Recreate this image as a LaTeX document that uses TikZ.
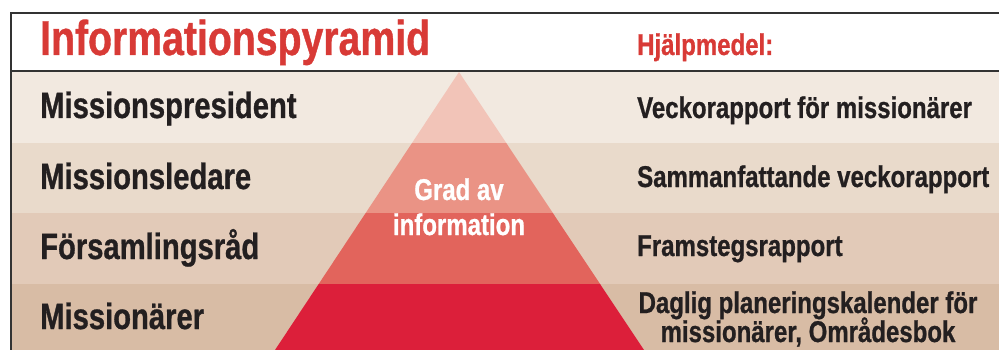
\documentclass[tikz,border=0pt]{standalone}
\usepackage{fontspec}
\setmainfont{Liberation Sans}[FakeStretch=0.8,BoldFeatures={FakeBold=0.8}]
\definecolor{titlered}{HTML}{D83A36}
\definecolor{ink}{HTML}{231F20}
\definecolor{bandA}{HTML}{F2E9E0}
\definecolor{bandB}{HTML}{E9DACB}
\definecolor{bandC}{HTML}{E2CAB8}
\definecolor{bandD}{HTML}{D8BCA5}
\definecolor{pyrA}{HTML}{F2C4B8}
\definecolor{pyrB}{HTML}{EA9385}
\definecolor{pyrC}{HTML}{E2645C}
\definecolor{pyrD}{HTML}{DC1F3A}
\definecolor{frame}{HTML}{333333}
\begin{document}
\begin{tikzpicture}[x=1pt,y=-1pt,
  lvl/.style={anchor=base west,inner sep=0pt,font=\fontsize{36.5}{40}\selectfont\bfseries,text=ink},
  aid/.style={anchor=base west,inner sep=0pt,font=\fontsize{30}{32}\selectfont\bfseries,text=ink},
  pyrtext/.style={anchor=base,inner sep=0pt,font=\fontsize{30}{34}\selectfont\bfseries,text=white}]
\useasboundingbox (0,0) rectangle (999,350);
\fill[white] (0,0) rectangle (999,350);
% bands
\fill[bandA] (11,71) rectangle (999,143);
\fill[bandB] (11,143) rectangle (999,213);
\fill[bandC] (11,213) rectangle (999,284);
\fill[bandD] (11,284) rectangle (999,350);
% pyramid
\begin{scope}
\clip (459,72) -- (644,350) -- (275,350) -- cycle;
\fill[pyrA] (250,60) rectangle (700,143);
\fill[pyrB] (250,143) rectangle (700,213);
\fill[pyrC] (250,213) rectangle (700,284);
\fill[pyrD] (250,284) rectangle (700,360);
\end{scope}
% frame
\draw[frame,line width=1.3pt] (999,13) -- (11,13) -- (11,350);
\draw[frame,line width=1.3pt] (11,71) -- (999,71);
% title row
\node[anchor=base west,inner sep=0pt,font=\fontsize{49}{52}\selectfont\bfseries,text=titlered] (title) at (40,55) {Informationspyramid};
\node[anchor=base west,inner sep=0pt,font=\fontsize{30}{32}\selectfont\bfseries,text=titlered] (aids) at (637,55) {Hjälpmedel:};
% levels
\node[lvl] (l1) at (40,118) {Missionspresident};
\node[lvl] (l2) at (40,189) {Missionsledare};
\node[lvl] (l3) at (40,259) {Församlingsråd};
\node[lvl] (l4) at (40,329) {Missionärer};
% aids
\node[aid] (a1) at (637,118) {Veckorapport för missionärer};
\node[aid] (a2) at (637,187) {Sammanfattande veckorapport};
\node[aid] (a3) at (637,256) {Framstegsrapport};
\node[aid,anchor=base] (a4) at (808,313) {Daglig planeringskalender för};
\node[aid,anchor=base] (a5) at (808,342) {missionärer, Områdesbok};
% pyramid text
\node[pyrtext] (p1) at (459,200) {Grad av};
\node[pyrtext] (p2) at (459,235) {information};
\end{tikzpicture}
\end{document}
